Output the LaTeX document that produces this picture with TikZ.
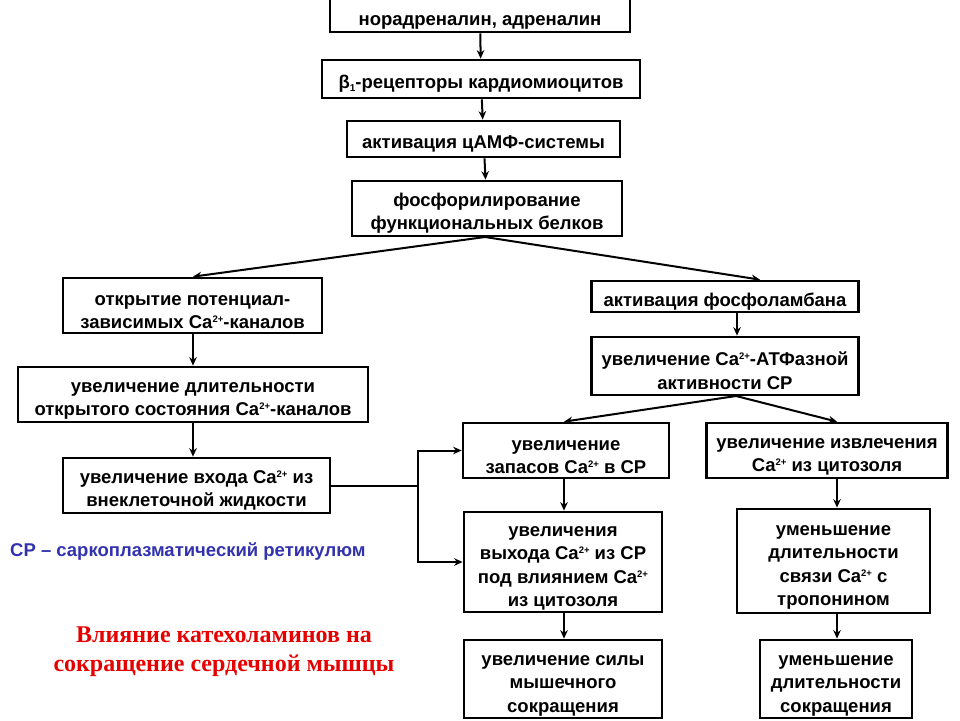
\documentclass[tikz,border=0pt]{standalone}
\usepackage{fontspec}
\setmainfont{Liberation Sans}
\newfontfamily\serifbf{Liberation Serif}
\usetikzlibrary{arrows.meta,calc}
\definecolor{srblue}{RGB}{50,50,175}
\definecolor{titlered}{RGB}{230,0,0}
\newcommand{\boxfont}{\fontsize{18.5}{23.5}\selectfont\bfseries}
\newcommand{\tinysup}[1]{\raisebox{0.62ex}{\fontsize{9.5}{9.5}\selectfont #1}}
\newcommand{\tinysub}[1]{\raisebox{-0.25ex}{\fontsize{10}{10}\selectfont #1}}
\newcommand{\cs}{Ca\tinysup{2+}}
\newcommand{\dn}{\rule{0pt}{23pt}}
\begin{document}
\begin{tikzpicture}[x=1pt,y=-1pt,
  box/.style={draw, line width=2.7pt, inner sep=0pt, align=center, font=\boxfont},
  tall/.style={font=\fontsize{18.5}{23.5}\selectfont\bfseries},
  arr/.style={-{Stealth[length=8.5pt,width=7.5pt]}, line width=2pt},
  link/.style={line width=2pt}]
\useasboundingbox (0,0) rectangle (960,720);

% top chain
\node[box, minimum width=300pt, minimum height=33pt] (b1) at (480,15.5) {\dn норадреналин, адреналин};
\node[box, minimum width=318pt, minimum height=38pt] (b2) at (481,79) {\dn β\tinysub{1}-рецепторы кардиомиоцитов};
\node[box, minimum width=273pt, minimum height=36pt] (b3) at (483.5,139) {\dn активация цАМФ-системы};
\node[box, minimum width=270pt, minimum height=55pt] (b4) at (487,208.5) {\dn фосфорилирование\\функциональных белков};

% left branch
\node[box, minimum width=259pt, minimum height=55pt] (b5) at (192.5,305.5) {\dn открытие потенциал-\\зависимых \cs-каналов};
\node[box, minimum width=350pt, minimum height=55pt] (b6) at (193,394.5) {\dn увеличение длительности\\открытого состояния \cs-каналов};
\node[box, minimum width=267pt, minimum height=55pt] (b7) at (196.5,485.5) {\dn увеличение входа \cs{} из\\внеклеточной жидкости};

% right branch
\node[box, minimum width=267pt, minimum height=31pt] (bA) at (725,296.5) {\dn активация фосфоламбана};
\node[box, minimum width=267pt, minimum height=58pt] (bB) at (725,366) {\dn увеличение \cs-АТФазной\\активности СР};
\node[box, minimum width=206pt, minimum height=55pt] (bC) at (566,450.5) {\dn увеличение\\запасов \cs{} в СР};
\node[box, minimum width=241pt, minimum height=55pt] (bD) at (827,450.5) {\dn увеличение извлечения\\\cs{} из цитозоля};
\node[box, tall, minimum width=198pt, minimum height=100pt] (bE) at (563,562) {\dn увеличения\\выхода \cs{} из СР\\под влиянием \cs\\из цитозоля};
\node[box, tall, minimum width=193pt, minimum height=104pt] (bF) at (833.5,561) {\dn уменьшение\\длительности\\связи \cs{} с\\тропонином};
\node[box, tall, minimum width=198pt, minimum height=78pt] (bG) at (563,679) {\dn увеличение силы\\мышечного\\сокращения};
\node[box, tall, minimum width=152pt, minimum height=78pt] (bH) at (836,679) {\dn уменьшение\\длительности\\сокращения};

% texts
\node[anchor=west, text=srblue, font=\fontsize{18.5}{21}\selectfont\bfseries, inner sep=0pt] (note) at (10,552) {СР – саркоплазматический ретикулюм};
\node[align=center, text=titlered, font=\serifbf\fontsize{24}{29}\selectfont\bfseries, inner sep=0pt] (title) at (224,652) {Влияние катехоламинов на\\сокращение сердечной мышцы};

% helper coordinates
\coordinate (xA) at (737,0);
\coordinate (xR) at (760,0);
\coordinate (xC) at (564,0);
\coordinate (xD) at (837,0);
\coordinate (xL) at (193,0);
\coordinate (jx) at (418,0);
\coordinate (top4) at (485,237);
\coordinate (topB) at (736,396);

% connectors
\draw[arr] (b1) -- (b2);
\draw[arr] (b2) -- (b3);
\draw[arr] (b3) -- (b4);
\draw[arr] (top4) -- (xL |- b5.north);
\draw[arr] (top4) -- (xR |- bA.north);
\draw[arr] (xL |- b5.south) -- (xL |- b6.north);
\draw[arr] (xL |- b6.south) -- (xL |- b7.north);
\draw[arr] (xA |- bA.south) -- (xA |- bB.north);
\draw[arr] (topB) -- (xC |- bC.north);
\draw[arr] (topB) -- (xD |- bD.north);
\draw[arr] (xC |- bC.south) -- (xC |- bE.north);
\draw[arr] (xD |- bD.south) -- (xD |- bF.north);
\draw[arr] (xC |- bE.south) -- (xC |- bG.north);
\draw[arr] (xD |- bF.south) -- (xD |- bH.north);
\draw[link] (b7.east) -- (jx |- b7.east);
\draw[arr] (jx |- b7.east) |- (bC.west);
\draw[arr] (jx |- b7.east) |- (bE.west);
\end{tikzpicture}
\end{document}
